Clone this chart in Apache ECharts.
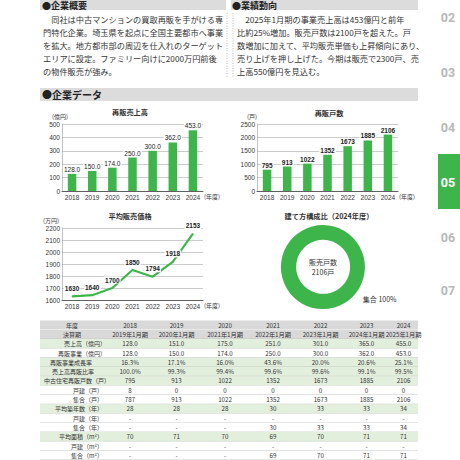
<!DOCTYPE html>
<html>
<head>
<meta charset="utf-8">
<script src="https://cdn.jsdelivr.net/npm/echarts@6/dist/echarts.min.js"></script>
<style>
  html, body { margin: 0; padding: 0; background: #fff; }
  #main { width: 460px; height: 460px; }
</style>
</head>
<body>
<div id="main"></div>
<script>
// chart data
var years = ['2018', '2019', '2020', '2021', '2022', '2023', '2024'];
var salesValues = [128.0, 150.0, 174.0, 250.0, 300.0, 362.0, 453.0];
var unitValues = [795, 913, 1022, 1352, 1673, 1885, 2106];
var priceValues = [1630, 1640, 1700, 1850, 1794, 1918, 2153];
var typeNames = ['集合'];
var typeValues = [2106];

// table data
var fiscalTerms = ['2019年1月期', '2020年1月期', '2021年1月期', '2022年1月期', '2023年1月期', '2024年1月期', '2025年1月期'];
var tableLabels = ['売上高（億円）', '再販事業（億円）', '再販事業成長率', '売上高再販比率', '中古住宅再販戸数（戸）',
  '戸建（戸）', '集合（戸）', '平均築年数（年）', '戸建（年）', '集合（年）', '平均面積（m²）', '戸建（m²）', '集合（m²）'];
var tableValues = [
  ['128.0', '151.0', '175.0', '251.0', '301.0', '365.0', '455.0'],
  ['128.0', '150.0', '174.0', '250.0', '300.0', '362.0', '453.0'],
  ['16.3%', '17.1%', '16.0%', '43.6%', '20.0%', '20.6%', '25.1%'],
  ['100.0%', '99.3%', '99.4%', '99.6%', '99.6%', '99.1%', '99.5%'],
  ['795', '913', '1022', '1352', '1673', '1885', '2106'],
  ['8', '0', '0', '0', '0', '0', '0'],
  ['787', '913', '1022', '1352', '1673', '1885', '2106'],
  ['28', '28', '28', '30', '33', '33', '34'],
  ['-', '-', '-', '-', '-', '-', '-'],
  ['-', '-', '-', '30', '33', '33', '34'],
  ['70', '71', '70', '69', '70', '71', '71'],
  ['-', '-', '-', '-', '-', '-', '-'],
  ['-', '-', '-', '69', '70', '71', '71']
];

// text blocks
var overviewLines = [
  '　同社は中古マンションの買取再販を手がける専',
  '門特化企業。埼玉県を起点に全国主要都市へ事業',
  'を拡大。地方都市部の周辺を仕入れのターゲット',
  'エリアに設定。ファミリー向けに2000万円前後',
  'の物件販売が強み。'
];
var trendLines = [
  '　2025年1月期の事業売上高は453億円と前年',
  '比約25%増加。販売戸数は2100戸を超えた。戸',
  '数増加に加えて、平均販売単価も上昇傾向にあり、',
  '売り上げを押し上げた。今期は販売で2300戸、売',
  '上高550億円を見込む。'
];
var navPages = ['02', '03', '04', '05', '06', '07'];

var jp = "'Noto Sans CJK JP', sans-serif";
var num = "'Liberation Sans', Arial, sans-serif";
var green = '#3db54a';
var ink = '#333';

var g = [];
function txt(x, y, s, o) {
  o = o || {};
  g.push({
    type: 'text', x: x, y: y, silent: true,
    style: {
      text: s, fontSize: o.size || 8.2, fontFamily: o.font || jp,
      fontWeight: o.weight || 'normal', fill: o.color || ink,
      align: o.align || 'left', verticalAlign: 'middle'
    }
  });
}
function box(x, y, w, h, color) {
  g.push({ type: 'rect', silent: true, shape: { x: x, y: y, width: w, height: h }, style: { fill: color } });
}
function rule(x1, y1, x2, y2, color, dash) {
  g.push({
    type: 'line', silent: true, shape: { x1: x1, y1: y1, x2: x2, y2: y2 },
    style: { stroke: color, lineWidth: 0.6, lineDash: dash || null }
  });
}

// section headers
box(40, -5, 186, 15, '#dcdcdc');
txt(42, 5.5, '●企業概要', { size: 9, weight: 'bold', color: '#222' });
box(231, -5, 187, 15, '#dcdcdc');
txt(232, 5.5, '●業績動向', { size: 9, weight: 'bold', color: '#222' });
box(40, 88, 378, 13, '#dcdcdc');
txt(42, 94.5, '●企業データ', { size: 10, weight: 'bold', color: '#222' });

// paragraphs
overviewLines.forEach(function (s, i) { txt(43, 19 + i * 13, s); });
trendLines.forEach(function (s, i) { txt(237, 19 + i * 13, s); });
rule(227, 13, 227, 78, '#888', [1, 1.5]);
rule(233, 13, 233, 78, '#888', [1, 1.5]);

// page nav
box(438, 154, 22, 55, green);
var navY = [17, 72, 127, 182, 237, 290];
navPages.forEach(function (p, i) {
  txt(448, navY[i], p, { size: 12.5, weight: 'bold', font: "Roboto, sans-serif",
    color: p === '05' ? '#fff' : '#b8b8b8', align: 'center' });
});

// chart titles and units
txt(130, 112, '再販売上高', { size: 7.2, weight: 'bold', align: 'center' });
txt(52, 116, '(億円)', { size: 6 });
txt(204, 196, '(年度)', { size: 6 });
txt(329, 112.5, '再販戸数', { size: 7.2, weight: 'bold', align: 'center' });
txt(247, 116, '(戸)', { size: 6 });
txt(399, 196, '(年度)', { size: 6 });
txt(130, 215.5, '平均販売価格', { size: 7.2, weight: 'bold', align: 'center' });
txt(43, 220, '(万円)', { size: 6 });
txt(204, 305, '(年度)', { size: 6 });
txt(329, 215.5, '建て方構成比（2024年度）', { size: 7.2, weight: 'bold', align: 'center' });
var typeTotal = typeValues.reduce(function (a, b) { return a + b; }, 0);
txt(323, 262, '販売戸数', { size: 7, align: 'center' });
txt(323, 272, typeTotal + '戸', { size: 7, align: 'center' });

// table
var rowTop = 320.5, rowH = 9.3;
var colEdges = [108, 152, 201, 249, 297, 344, 389, 418];
var rowKinds = ['head', 'head', 'green', 'white', 'green', 'green', 'green',
  'white', 'white', 'green', 'white', 'white', 'green', 'white', 'white'];
var rowFill = { head: '#d9d9d9', green: '#e3efdd', white: '#ffffff' };
var labelPos = [[72, 'center'], [72, 'center'], [106, 'right'], [106, 'right'], [50, 'left'], [52, 'left'], [44, 'left'],
  [103, 'right'], [103, 'right'], [103, 'right'], [103, 'right'], [103, 'right'], [103, 'right'], [103, 'right'], [103, 'right']];
var allLabels = ['年度', '決算期'].concat(tableLabels);
var allRows = [years, fiscalTerms].concat(tableValues);
allRows.forEach(function (vals, r) {
  var y = rowTop + r * rowH;
  box(40, y, 378, rowH, rowFill[rowKinds[r]]);
  rule(40, y + rowH, 418, y + rowH, r === 0 ? '#fff' : '#b0b0b0');
  txt(labelPos[r][0], y + rowH / 2, allLabels[r], { size: 6, align: labelPos[r][1] });
  vals.forEach(function (v, c) {
    txt((colEdges[c] + colEdges[c + 1]) / 2, y + rowH / 2, v, { size: 6.2, align: 'center' });
  });
});

function catAxis(gi) {
  return {
    type: 'category', gridIndex: gi, data: years,
    axisLine: { lineStyle: { color: '#444', width: 0.8 } },
    axisTick: { show: false },
    axisLabel: { fontSize: 6.5, margin: 3, color: ink, fontFamily: num, interval: 0 }
  };
}
function valAxis(gi, min, max, step) {
  return {
    type: 'value', gridIndex: gi, min: min, max: max, interval: step,
    axisLine: { show: true, lineStyle: { color: '#999', width: 0.6 } },
    axisTick: { show: false },
    axisLabel: { fontSize: 6.5, margin: 2, color: ink, fontFamily: num, formatter: function (v) { return String(v); } },
    splitLine: { lineStyle: { color: '#aaa', width: 0.6 } }
  };
}
function tagStyle(bold, pos, dist, fmt) {
  return {
    show: true, position: pos, distance: dist, fontSize: 6.5, color: '#222',
    fontFamily: num, fontWeight: bold ? 'bold' : 'normal',
    backgroundColor: '#fff', padding: [0, 1], formatter: fmt
  };
}

var chart = echarts.init(document.getElementById('main'), null, { renderer: 'svg' });
chart.setOption({
  animation: false,
  textStyle: { fontFamily: jp },
  grid: [
    { left: 62, top: 124, width: 141, height: 67 },
    { left: 257, top: 124, width: 141, height: 67 },
    { left: 62, top: 228, width: 141, height: 72 }
  ],
  xAxis: [catAxis(0), catAxis(1), catAxis(2)],
  yAxis: [valAxis(0, 0, 500, 100), valAxis(1, 0, 2500, 500), valAxis(2, 1600, 2200, 100)],
  series: [
    {
      type: 'bar', xAxisIndex: 0, yAxisIndex: 0, data: salesValues, barWidth: 8.5,
      itemStyle: { color: green }, silent: true,
      label: tagStyle(false, 'top', 1, function (p) { return p.value.toFixed(1); })
    },
    {
      type: 'bar', xAxisIndex: 1, yAxisIndex: 1, data: unitValues, barWidth: 8.5,
      itemStyle: { color: green }, silent: true,
      label: tagStyle(true, 'top', 1)
    },
    {
      type: 'line', xAxisIndex: 2, yAxisIndex: 2, data: priceValues,
      symbol: 'circle', symbolSize: 1, showSymbol: true,
      itemStyle: { color: green },
      lineStyle: { color: green, width: 2.2 }, silent: true,
      label: tagStyle(true, 'top', 4)
    },
    {
      type: 'pie', center: [323, 267], radius: [27, 42], startAngle: 135, silent: true,
      data: typeNames.map(function (n, i) { return { name: n, value: typeValues[i] }; }),
      itemStyle: { color: green },
      label: { show: true, position: 'outside', formatter: '{b} {d}%', fontSize: 7, color: ink },
      labelLine: { show: false, length: 3, length2: 3 }
    }
  ],
  graphic: g
});
</script>
</body>
</html>
